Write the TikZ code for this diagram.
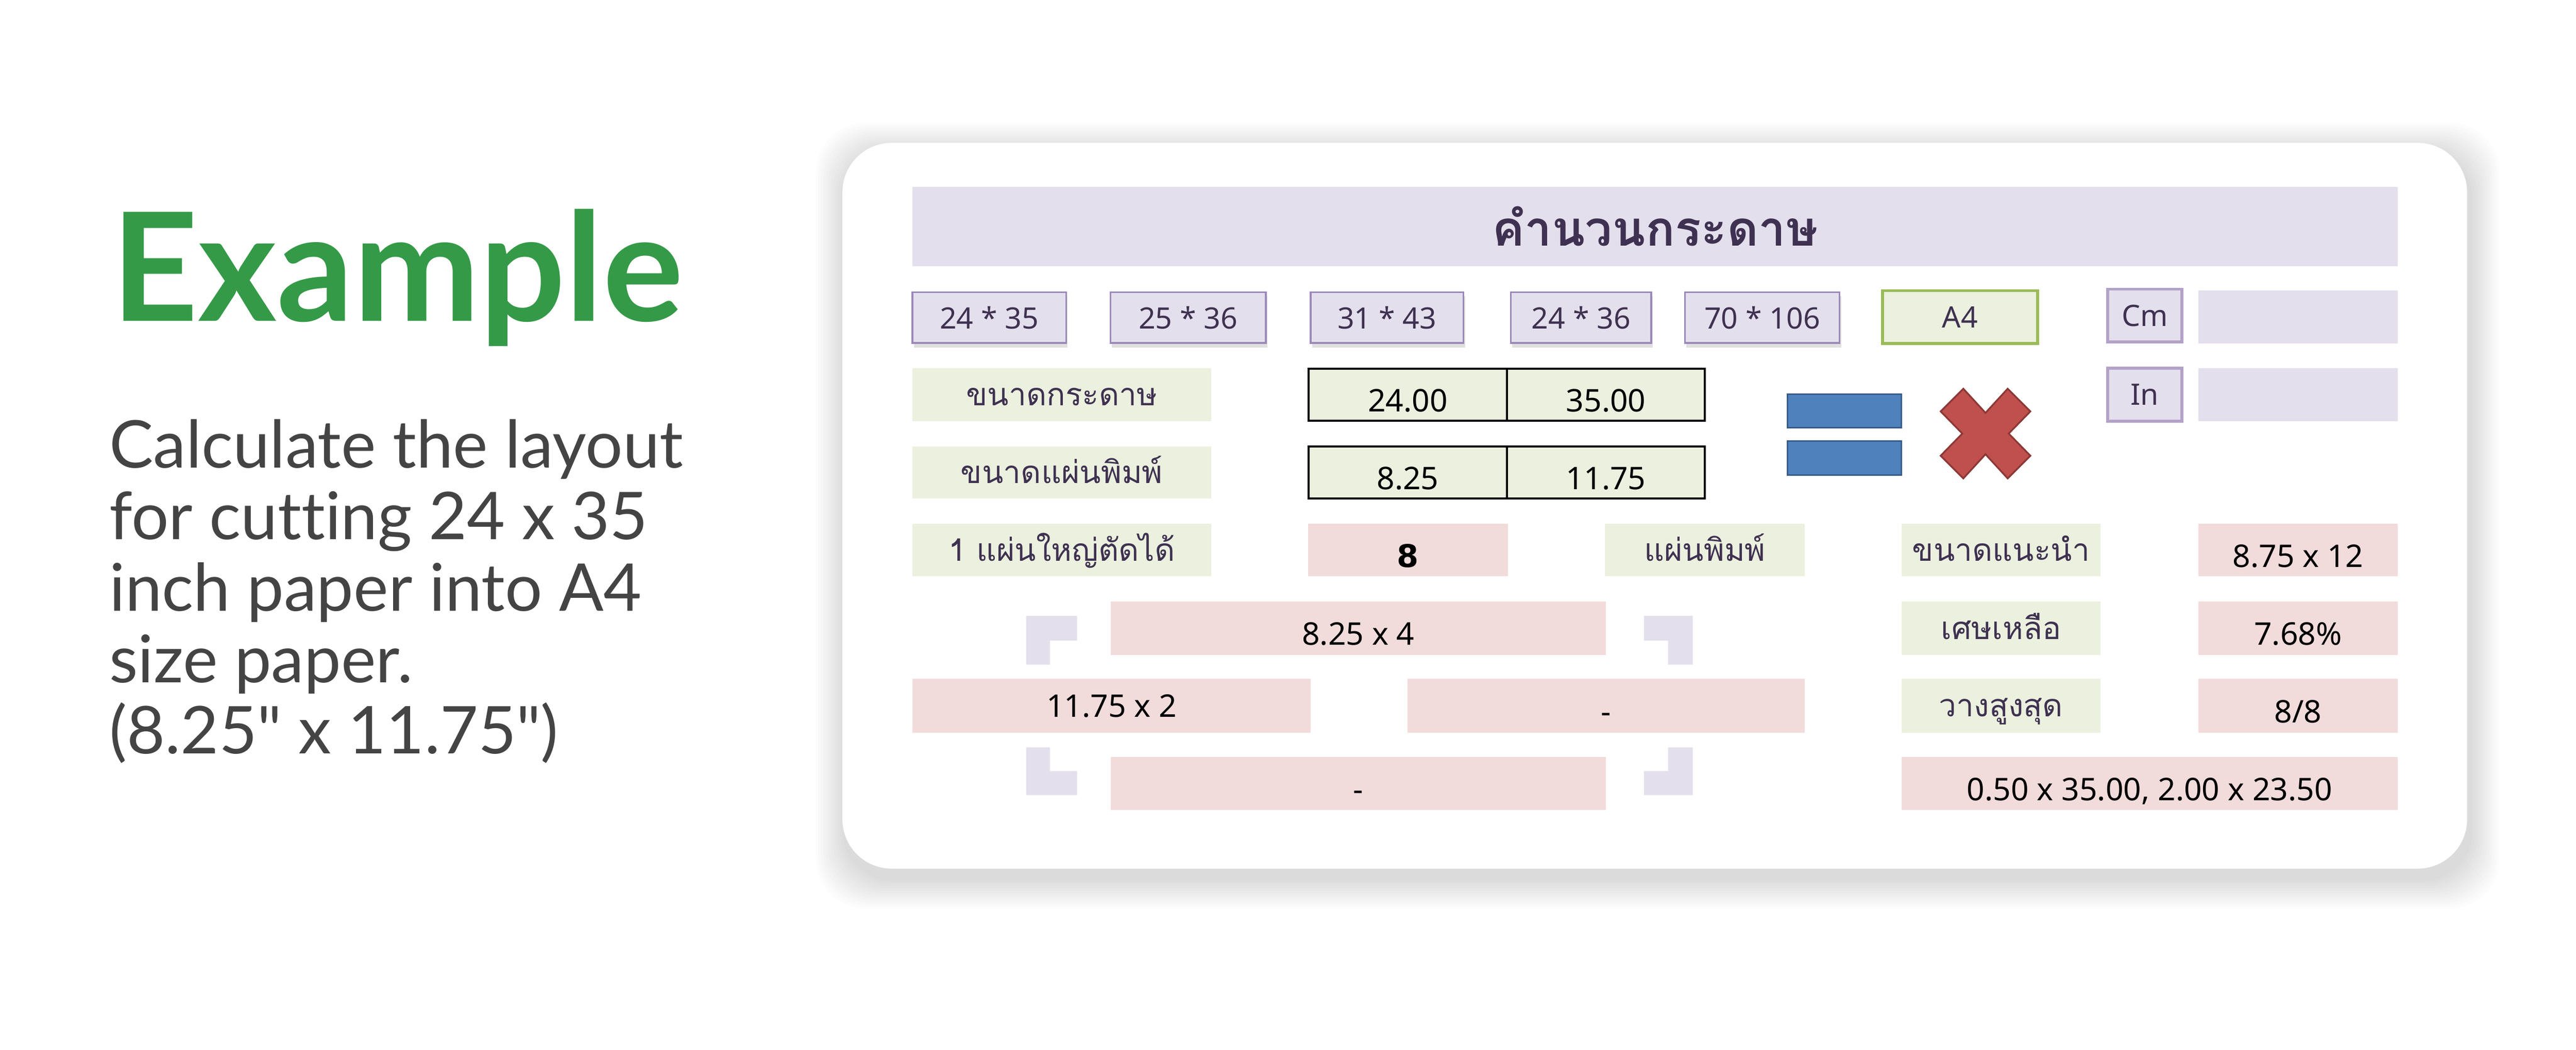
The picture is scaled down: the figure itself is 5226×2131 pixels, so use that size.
\documentclass[tikz,border=0pt]{standalone}
\usepackage{fontspec}
\setmainfont{Lato}
\newfontfamily\bodyf{Lato}[Ligatures=NoCommon]
\newfontfamily\thaif[Script=Thai]{Loma}
\newfontfamily\numf{Noto Sans}
\newfontfamily\dvs{DejaVu Sans}
\definecolor{lav}{HTML}{E4DFEC}
\definecolor{lgreen}{HTML}{EBF1DE}
\definecolor{lpink}{HTML}{F2DCDB}
\definecolor{tdark}{HTML}{3F3151}
\definecolor{btnborder}{HTML}{9C8AB9}
\definecolor{unitborder}{HTML}{B3A2C7}
\definecolor{a4green}{HTML}{9BBB59}
\definecolor{bluefill}{HTML}{4F81BD}
\definecolor{blueline}{HTML}{385D8A}
\definecolor{redfill}{HTML}{C0504D}
\definecolor{redline}{HTML}{8C3836}
\definecolor{exgreen}{HTML}{349A47}
\definecolor{bodygray}{HTML}{444444}
\newcommand\cbox[7]{\node[#2, anchor=north west, minimum width={(#5-#3)*0.01cm}, minimum height={(#6-#4)*0.01cm}] (#1) at (#3,#4) {#7};}
\tikzset{
  base/.style={inner sep=0pt, outer sep=0pt},
  titlebar/.style={base, fill=lav, text=tdark, font=\thaif\bfseries\fontsize{28}{32}\selectfont},
  btn/.style={base, fill=lav, draw=btnborder, line width=1pt, text=tdark, font=\numf\fontsize{17}{20}\selectfont},
  btnshadow/.style={fill=black, opacity=0.12},
  lbl/.style={base, fill=lgreen, text=tdark, text height=12.6pt, text depth=0pt, font=\thaif\fontsize{18}{22}\selectfont},
  val/.style={base, fill=lpink, text=black, text height=19.6pt, text depth=0pt, font=\numf\fontsize{18}{22}\selectfont},
  valc/.style={base, fill=lpink, text=black, font=\numf\fontsize{18}{22}\selectfont},
  tcell/.style={base, fill=lgreen, draw=black, line width=1.2pt, text=black, text height=19.6pt, text depth=0pt, font=\numf\fontsize{18}{22}\selectfont},
  a4box/.style={base, fill=lgreen, draw=a4green, line width=1.7pt, text=tdark, font=\numf\fontsize{17}{20}\selectfont},
  unitbox/.style={base, fill=lav, draw=unitborder, line width=1.7pt, text=tdark, font=\numf\fontsize{17}{20}\selectfont},
  emptybox/.style={base, fill=lav},
  bracket/.style={fill=lav},
}
\begin{document}
\begin{tikzpicture}[x=0.01cm,y=-0.01cm]
\useasboundingbox (0,0) rectangle (5226,2131);
\fill[white] (0,0) rectangle (5226,2131);
% card shadow
\foreach \i in {1,...,12}{
  \fill[black, opacity=0.011, rounded corners=1cm] (1709-\i*5+6,290-\i*5+20) rectangle (5005+\i*5+6,1763+\i*5+20);
}
\fill[white, rounded corners=1cm] (1709,290) rectangle (5005,1763);

% left text
\node[base, anchor=base west, text=exgreen, font=\bodyf\bfseries\fontsize{87}{94}\selectfont] (ex) at (226,652) {Example};
\node[base, anchor=base west, align=left, text=bodygray, font=\bodyf\fontsize{38}{41.25}\selectfont] (body) at (222,1530)
 {Calculate the layout\\for cutting 24 x 35\\inch paper into A4\\size paper.\\(8.25" x 11.75")};

% title
\cbox{title}{titlebar}{1851}{379}{4864}{540}{คำนวนกระดาษ}

% row 1 buttons
\foreach \a/\b in {1851/2163,2253/2568,2659/2969,3065/3350,3418/3732}{
  \fill[btnshadow] (\a+3,601) rectangle (\b+3,706);
}
\cbox{b1}{btn}{1851}{593}{2163}{696}{24 * 35}
\cbox{b2}{btn}{2253}{593}{2568}{696}{25 * 36}
\cbox{b3}{btn}{2659}{593}{2969}{696}{31 * 43}
\cbox{b4}{btn}{3065}{593}{3350}{696}{24 * 36}
\cbox{b5}{btn}{3418}{593}{3732}{696}{70 * 106}
\cbox{a4}{a4box}{3819}{590}{4134}{697}{A4}
\cbox{cm}{unitbox}{4276}{587}{4426}{694}{Cm}
\cbox{cmv}{emptybox}{4460}{590}{4864}{697}{}

% row 2
\cbox{l1}{lbl}{1851}{747}{2457}{855}{ขนาดกระดาษ}
\cbox{pw}{tcell}{2655}{748}{3057}{854}{24.00}
\cbox{ph}{tcell}{3057}{748}{3459}{854}{35.00}
\cbox{in}{unitbox}{4276}{747}{4426}{855}{In}
\cbox{inv}{emptybox}{4460}{747}{4864}{855}{}

% row 3
\cbox{l2}{lbl}{1851}{906}{2457}{1012}{ขนาดแผ่นพิมพ์}
\cbox{sw}{tcell}{2655}{906}{3057}{1012}{8.25}
\cbox{sh}{tcell}{3057}{906}{3459}{1012}{11.75}

% equals sign and cross
\filldraw[fill=bluefill, draw=blueline, line width=1pt] (3626,800) rectangle (3857,868);
\filldraw[fill=bluefill, draw=blueline, line width=1pt] (3626,895) rectangle (3857,964);
\filldraw[fill=redfill, draw=redline, line width=1pt]
  (3983,789) -- (4028,838) -- (4073,789) -- (4119,835) -- (4075,880) -- (4119,925)
  -- (4073,971) -- (4028,922) -- (3983,971) -- (3937,925) -- (3981,880) -- (3937,835) -- cycle;

% row 4
\cbox{l3}{lbl}{1851}{1063}{2457}{1170}{1 แผ่นใหญ่ตัดได้}
\cbox{cnt}{val}{2654}{1063}{3059}{1170}{\dvs\bfseries\fontsize{18}{22}\selectfont 8}
\cbox{l4}{lbl}{3256}{1063}{3661}{1170}{แผ่นพิมพ์}
\cbox{l5}{lbl}{3858}{1063}{4261}{1170}{ขนาดแนะนำ}
\cbox{rec}{val}{4460}{1063}{4864}{1170}{8.75 x 12}

% row 5
\cbox{top}{val}{2253}{1221}{3258}{1329}{8.25 x 4}
\cbox{l6}{lbl}{3858}{1221}{4261}{1329}{เศษเหลือ}
\cbox{waste}{val}{4460}{1221}{4864}{1329}{7.68\%}

% row 6
\cbox{left}{valc}{1851}{1378}{2659}{1487}{11.75 x 2}
\cbox{right}{val}{2855}{1378}{3661}{1487}{-}
\cbox{l7}{lbl}{3858}{1378}{4261}{1487}{วางสูงสุด}
\cbox{max}{val}{4460}{1378}{4864}{1487}{8/8}

% row 7
\cbox{bot}{val}{2253}{1536}{3258}{1644}{-}
\cbox{rest}{val}{3858}{1536}{4864}{1644}{0.50 x 35.00, 2.00 x 23.50}

% brackets
\fill[bracket] (2082,1250) -- (2185,1250) -- (2185,1300) -- (2130,1300) -- (2130,1349) -- (2082,1349) -- cycle;
\fill[bracket] (3335,1250) -- (3434,1250) -- (3434,1349) -- (3384,1349) -- (3384,1300) -- (3335,1300) -- cycle;
\fill[bracket] (2082,1517) -- (2130,1517) -- (2130,1565) -- (2185,1565) -- (2185,1614) -- (2082,1614) -- cycle;
\fill[bracket] (3384,1517) -- (3434,1517) -- (3434,1614) -- (3335,1614) -- (3335,1565) -- (3384,1565) -- cycle;
\end{tikzpicture}
\end{document}
